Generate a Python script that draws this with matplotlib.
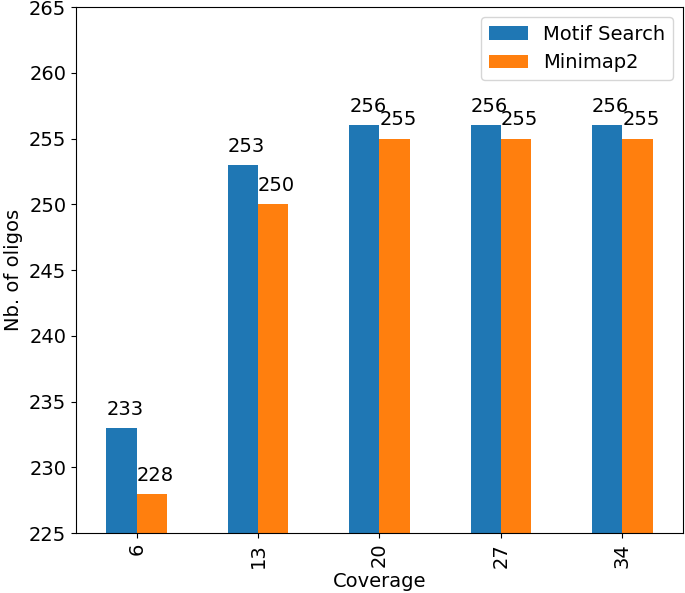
import numpy as np
import matplotlib.pyplot as plt

# Data
coverage = ['6', '13', '20', '27', '34']
motif_search = [233, 253, 256, 256, 256]
minimap2 = [228, 250, 255, 255, 255]

plt.rcParams['font.size'] = 14

fig, ax = plt.subplots(figsize=(6.85, 5.93), dpi=100)
fig.subplots_adjust(left=0.111, right=0.997, top=0.988, bottom=0.101)

x = np.arange(len(coverage))
w = 0.25
b1 = ax.bar(x - w / 2, motif_search, w, color='#1f77b4', label='Motif Search')
b2 = ax.bar(x + w / 2, minimap2, w, color='#ff7f0e', label='Minimap2')

# Value labels above bars, aligned with bar left edge
for bars in (b1, b2):
    for p in bars:
        ax.annotate(str(int(p.get_height())), (p.get_x(), p.get_height() + 1))

ax.set_ylim(225, 265)
ax.set_xlim(-0.5, 4.5)
ax.set_xticks(x)
ax.set_xticklabels(coverage, rotation=90)
ax.set_xlabel('Coverage', labelpad=3)
ax.set_ylabel('Nb. of oligos')
ax.legend(loc='upper right')

plt.savefig('out.png')
